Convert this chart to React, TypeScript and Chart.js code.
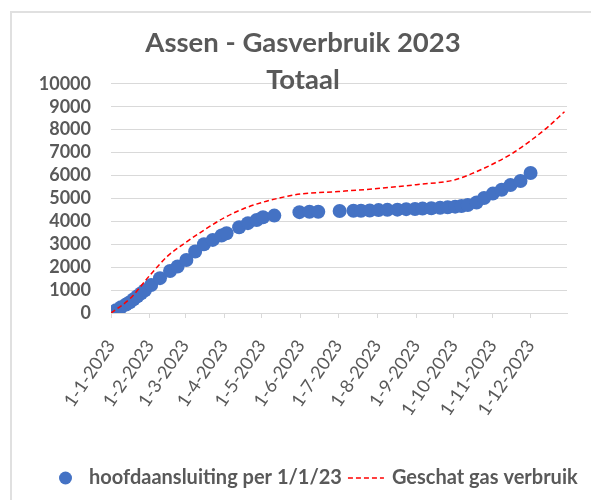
import React, { useEffect, useRef } from "react";
import { Chart, registerables } from "chart.js";

Chart.register(...registerables);

// Measured cumulative gas use (hoofdaansluiting per 1/1/23)
const measuredDates = [
  "2023-01-01", "2023-01-05", "2023-01-09", "2023-01-13", "2023-01-16", "2023-01-19",
  "2023-01-22", "2023-01-25", "2023-01-28", "2023-02-02", "2023-02-09", "2023-02-17",
  "2023-02-23", "2023-03-02", "2023-03-09", "2023-03-16", "2023-03-23", "2023-03-30",
  "2023-04-03", "2023-04-13", "2023-04-20", "2023-04-27", "2023-05-02", "2023-05-11",
  "2023-05-31", "2023-06-08", "2023-06-15", "2023-07-02", "2023-07-13", "2023-07-19",
  "2023-07-26", "2023-08-02", "2023-08-09", "2023-08-17", "2023-08-24", "2023-08-31",
  "2023-09-06", "2023-09-13", "2023-09-20", "2023-09-26", "2023-10-02", "2023-10-07",
  "2023-10-12", "2023-10-19", "2023-10-25", "2023-11-01", "2023-11-08", "2023-11-15",
  "2023-11-23", "2023-12-01",
];
const measuredValues = [
  0, 120, 250, 370, 470, 600,
  730, 860, 990, 1220, 1520, 1830,
  2030, 2310, 2680, 3000, 3190, 3380,
  3480, 3740, 3920, 4060, 4180, 4250,
  4400, 4420, 4420, 4450, 4460, 4460,
  4470, 4490, 4500, 4510, 4530, 4540,
  4555, 4570, 4590, 4610, 4640, 4670,
  4710, 4820, 5020, 5210, 5380, 5580,
  5760, 6110,
];

// Estimated gas use (Geschat gas verbruik)
const estimateDates = [
  "2023-01-01", "2023-01-16", "2023-02-01", "2023-02-15", "2023-03-01", "2023-03-17",
  "2023-04-01", "2023-04-16", "2023-05-01", "2023-05-16", "2023-06-01", "2023-07-01",
  "2023-08-01", "2023-09-01", "2023-10-01", "2023-10-17", "2023-11-01", "2023-11-16",
  "2023-12-01", "2023-12-14", "2023-12-28",
];
const estimateValues = [
  0, 620, 1650, 2480, 3060, 3650,
  4150, 4540, 4820, 5030, 5190, 5300,
  5430, 5600, 5800, 6120, 6500, 6950,
  7520, 8080, 8780,
];

const tickDates = [
  "2023-01-01", "2023-02-01", "2023-03-01", "2023-04-01", "2023-05-01", "2023-06-01",
  "2023-07-01", "2023-08-01", "2023-09-01", "2023-10-01", "2023-11-01", "2023-12-01",
];
const tickLabels = [
  "1-1-2023", "1-2-2023", "1-3-2023", "1-4-2023", "1-5-2023", "1-6-2023",
  "1-7-2023", "1-8-2023", "1-9-2023", "1-10-2023", "1-11-2023", "1-12-2023",
];
const axisStartDate = "2023-01-01";
const axisEndDate = "2023-12-30";
const yMin = 0;
const yMax = 10000;
const yStep = 1000;

const titleLines = ["Assen - Gasverbruik 2023", "Totaal"];
const seriesNames = ["hoofdaansluiting per 1/1/23", "Geschat gas verbruik"];

const dayOfYear = (iso: string) => {
  const [y, m, d] = iso.split("-").map(Number);
  return (Date.UTC(y, m - 1, d) - Date.UTC(2023, 0, 1)) / 86400000;
};

const GRAY = "#595959";
const GRID = "#d9d9d9";
const BLUE = "#4472C4";
const RED = "#FF0000";

const framePlugin = {
  id: "frame",
  beforeDraw(chart: any) {
    const ctx = chart.ctx;
    ctx.save();
    ctx.fillStyle = "#ffffff";
    ctx.fillRect(0, 0, chart.width, chart.height);
    ctx.strokeStyle = "#e0e0e0";
    ctx.lineWidth = 2;
    ctx.beginPath();
    ctx.moveTo(11, chart.height);
    ctx.lineTo(11, 12);
    ctx.lineTo(chart.width, 12);
    ctx.stroke();
    ctx.restore();
  },
};

const legendPlugin = {
  id: "bottomLegend",
  afterDraw(chart: any) {
    const ctx = chart.ctx;
    const y = 478;
    ctx.save();
    ctx.font = "bold 20px Lato";
    ctx.textBaseline = "middle";
    ctx.textAlign = "left";
    ctx.fillStyle = BLUE;
    ctx.beginPath();
    ctx.arc(65.5, y, 6.5, 0, Math.PI * 2);
    ctx.fill();
    ctx.fillStyle = GRAY;
    const x1 = 89;
    ctx.fillText(seriesNames[0], x1, y);
    const w1 = ctx.measureText(seriesNames[0]).width;
    const lx = x1 + w1 + 6;
    ctx.strokeStyle = RED;
    ctx.lineWidth = 1.5;
    ctx.setLineDash([5, 3]);
    ctx.beginPath();
    ctx.moveTo(lx, y);
    ctx.lineTo(lx + 36, y);
    ctx.stroke();
    ctx.setLineDash([]);
    ctx.fillText(seriesNames[1], lx + 44, y);
    ctx.restore();
  },
};

export default function App() {
  const canvasRef = useRef<HTMLCanvasElement | null>(null);

  useEffect(() => {
    document.body.style.margin = "0";
    const canvas = canvasRef.current;
    if (!canvas) return;
    const measured = measuredDates.map((d, i) => ({ x: dayOfYear(d), y: measuredValues[i] }));
    const estimate = estimateDates.map((d, i) => ({ x: dayOfYear(d), y: estimateValues[i] }));

    const chart = new Chart(canvas, {
      type: "scatter",
      data: {
        datasets: [
          {
            label: seriesNames[0],
            data: measured,
            backgroundColor: BLUE,
            borderColor: BLUE,
            borderWidth: 0,
            pointRadius: 7,
            showLine: false,
            order: 1,
          },
          {
            label: seriesNames[1],
            data: estimate,
            showLine: true,
            borderColor: RED,
            backgroundColor: RED,
            borderWidth: 1.5,
            borderDash: [5, 3],
            pointRadius: 0,
            cubicInterpolationMode: "monotone",
            fill: false,
            order: 0,
          } as any,
        ],
      },
      options: {
        responsive: false,
        animation: false,
        devicePixelRatio: 1,
        layout: { padding: { left: 39, right: 24, top: 0, bottom: 0 } },
        plugins: {
          legend: { display: false },
          tooltip: { enabled: false },
          title: {
            display: true,
            text: titleLines,
            color: GRAY,
            font: { family: "Lato", size: 27.5, weight: "bold", lineHeight: 1.36 },
            padding: { top: 24, bottom: -15 },
          },
        },
        scales: {
          x: {
            type: "linear",
            min: dayOfYear(axisStartDate),
            max: dayOfYear(axisEndDate),
            afterBuildTicks: (scale: any) => {
              scale.ticks = tickDates.map((d) => ({ value: dayOfYear(d) }));
            },
            afterFit: (scale: any) => {
              scale.height = 187;
            },
            grid: {
              drawOnChartArea: false,
              drawTicks: true,
              tickLength: 5,
              color: GRID,
              lineWidth: 1,
            },
            border: { display: true, color: GRID, width: 1 },
            ticks: {
              autoSkip: false,
              minRotation: 56,
              maxRotation: 56,
              padding: 18,
              color: GRAY,
              font: { family: "Lato", size: 18 },
              callback: (_v: any, index: number) => tickLabels[index],
            },
          },
          y: {
            min: yMin,
            max: yMax,
            afterFit: (scale: any) => {
              scale.width = 72;
            },
            grid: { drawTicks: false, color: GRID, lineWidth: 1 },
            border: { display: false },
            ticks: {
              stepSize: yStep,
              autoSkip: false,
              padding: 20,
              color: GRAY,
              font: { family: "Lato", size: 18, weight: "bold" },
              callback: (v: any) => String(v),
            },
          },
        },
      },
      plugins: [framePlugin, legendPlugin],
    });
    return () => chart.destroy();
  }, []);

  return (
    <div style={{ position: "absolute", left: 0, top: 0, width: 591, height: 500 }}>
      <canvas ref={canvasRef} width={591} height={500} />
    </div>
  );
}
